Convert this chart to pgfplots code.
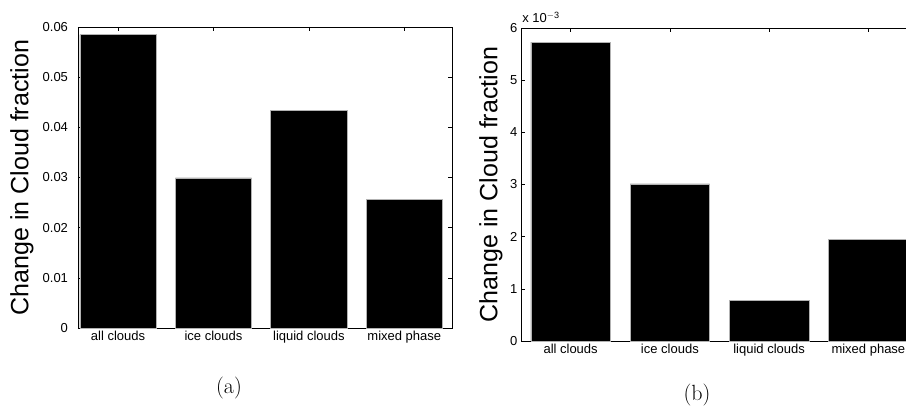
\documentclass[border=0pt]{standalone}
\usepackage{pgfplots}
\pgfplotsset{compat=1.18}
\usepackage{fontspec}
\newfontfamily\arial{Liberation Sans}

\pgfplotstableread{
x val
1 0.0585
2 0.0299
3 0.0433
4 0.0256
}\dataA
\pgfplotstableread{
x val
1 5.73
2 3.01
3 0.78
4 1.95
}\dataB

\pgfplotsset{
  mybar/.style={
    ybar, scale only axis, ymin=0, bar width=0.8, clip=false,
    scaled y ticks=false,
    xtick={1,2,3,4},
    xticklabels={all clouds,ice clouds,liquid clouds,mixed phase},
    tick align=inside, tick pos=both, major tick length=4pt,
    tick style={black, line width=0.5pt},
    axis line style={black, line width=0.8pt},
    ticklabel style={font=\arial\fontsize{13}{15}\selectfont},
    every axis y label/.style={rotate=90, anchor=center, font=\arial\fontsize{25}{30}\selectfont},
  },
  mybarstyle/.style={fill=black, draw=gray!60, line width=0.6pt},
}

\begin{document}
\begin{tikzpicture}[x=1pt,y=1pt]
\clip (0,0) rectangle (906,414);
\begin{axis}[mybar,
  at={(78pt,86pt)}, anchor=south west,
  width=374pt, height=301pt,
  xmin=0.58, xmax=4.5, ymax=0.06,
  ytick={0,0.01,0.02,0.03,0.04,0.05,0.06},
  yticklabels={0,0.01,0.02,0.03,0.04,0.05,0.06},
  yticklabel style={xshift=-6.5pt},
  ylabel={Change in Cloud fraction},
  ylabel style={at={(axis description cs:-0.1497,0.5)}},
]
\addplot[mybarstyle] table[x=x,y=val] {\dataA};
\end{axis}
\node[font=\fontsize{22}{26}\selectfont] at (229,26) {(a)};

\begin{axis}[mybar,
  at={(521pt,73pt)}, anchor=south west,
  width=397pt, height=313pt,
  xmin=0.5, xmax=4.5, ymax=6,
  ytick={0,1,2,3,4,5,6},
  yticklabels={0,1,2,3,4,5,6},
  ylabel={Change in Cloud fraction},
  ylabel style={at={(axis description cs:-0.0756,0.5)}},
]
\addplot[mybarstyle] table[x=x,y=val] {\dataB};
\node[anchor=south west, inner sep=0pt, font=\arial\fontsize{13}{15}\selectfont] at (axis description cs:0.003,1.015) {x 10\textsuperscript{$-$3}};
\end{axis}
\node[font=\fontsize{22}{26}\selectfont] at (697,19) {(b)};
\end{tikzpicture}
\end{document}
